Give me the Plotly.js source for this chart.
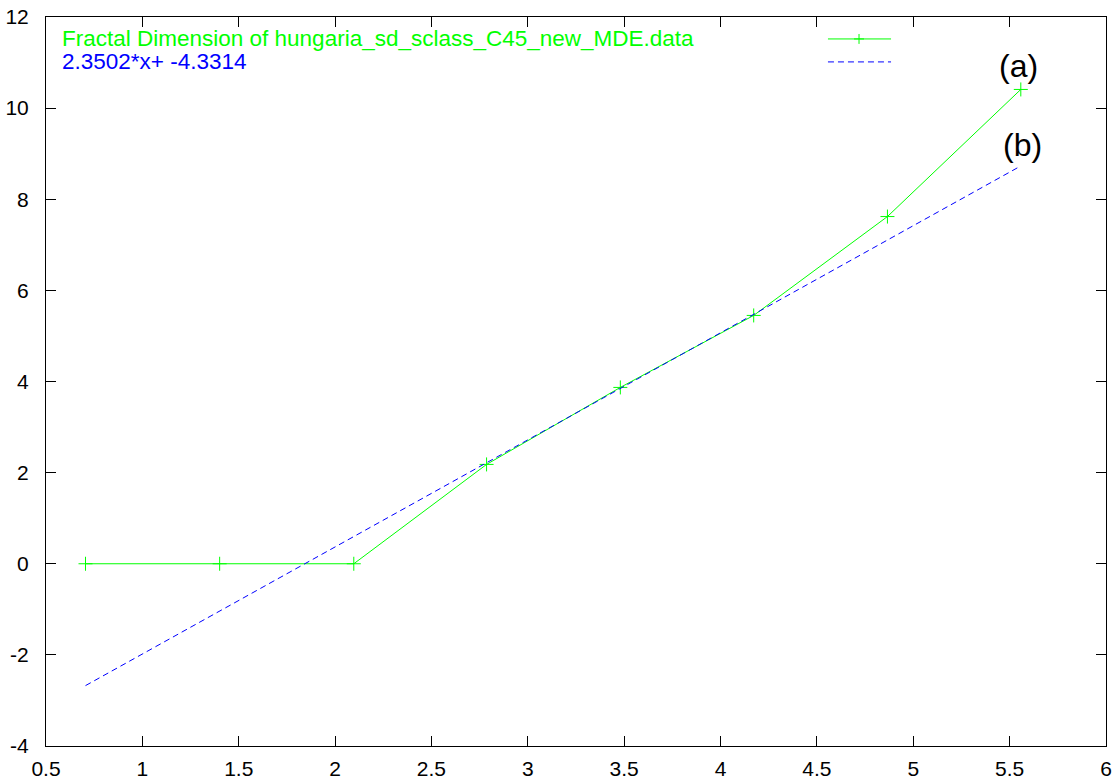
<!DOCTYPE html>
<html>
<head>
<meta charset="utf-8">
<script src="https://cdn.plot.ly/plotly-3.0.1.min.js"></script>
<style>
  html, body { margin: 0; padding: 0; background: #fff; }
  #plot { width: 1115px; height: 780px; }
</style>
</head>
<body>
<div id="plot"></div>
<script>
// Box-counting points: log of box count vs log of scale
const logScale = [0.705, 1.401, 2.097, 2.786, 3.480, 4.172, 4.866, 5.558];
const logCount = [0, 0, 0, 2.18, 3.87, 5.45, 7.62, 10.41];

// Least-squares fit reported in the key
const fitSlope = 2.3502;
const fitIntercept = -4.3314;
const fitX = [logScale[0], logScale[logScale.length - 1]];
const fitY = fitX.map(x => fitSlope * x + fitIntercept);

const dataLabel = "Fractal Dimension of hungaria_sd_sclass_C45_new_MDE.data";
const fitLabel = fitSlope + "*x+ " + fitIntercept;

const xTicks = [0.5, 1, 1.5, 2, 2.5, 3, 3.5, 4, 4.5, 5, 5.5, 6];
const yTicks = [-4, -2, 0, 2, 4, 6, 8, 10, 12];

const GREEN = "#00ff00";
const BLUE = "#0000ff";
const FONT = "Liberation Sans, Arial, Helvetica, sans-serif";

const traces = [
  {
    x: logScale, y: logCount, type: "scatter", mode: "lines+markers",
    line: { color: GREEN, width: 1 },
    marker: { symbol: "cross-thin-open", size: 10, line: { color: GREEN, width: 1 } },
    showlegend: false, hoverinfo: "x+y"
  },
  {
    x: fitX, y: fitY, type: "scatter", mode: "lines",
    line: { color: BLUE, width: 1, dash: "6px,4px" },
    showlegend: false, hoverinfo: "x+y"
  }
];

const axisCommon = {
  showgrid: false, zeroline: false, showline: true, linecolor: "#000", linewidth: 1,
  mirror: "ticks", ticks: "inside", ticklen: 10, tickwidth: 1, tickcolor: "#000",
  tickfont: { family: FONT, size: 21, color: "#000" }
};

// key: text on the left, line samples on the right (paper coordinates)
const keyY1 = 0.9699, keyY2 = 0.9384;
const sampleX0 = 0.7377, sampleX1 = 0.7972, sampleMid = 0.767;

const layout = {
  width: 1115, height: 780,
  margin: { l: 46, r: 9, t: 16.5, b: 33.5 },
  paper_bgcolor: "#fff", plot_bgcolor: "#fff",
  xaxis: Object.assign({}, axisCommon, {
    range: [0.5, 6], tickvals: xTicks, ticktext: xTicks.map(String), ticklabelstandoff: 4
  }),
  yaxis: Object.assign({}, axisCommon, {
    range: [-4, 12], tickvals: yTicks, ticktext: yTicks.map(String), ticklabelstandoff: 12
  }),
  annotations: [
    { xref: "paper", yref: "paper", x: 0.0132, y: keyY1, xanchor: "left", yanchor: "middle",
      text: dataLabel, showarrow: false, font: { family: FONT, size: 22.5, color: GREEN } },
    { xref: "paper", yref: "paper", x: 0.0132, y: keyY2, xanchor: "left", yanchor: "middle",
      text: fitLabel, showarrow: false, font: { family: FONT, size: 22.5, color: BLUE } },
    { xref: "x", yref: "y", x: 5.546, y: 10.92, xanchor: "center", yanchor: "middle",
      text: "(a)", showarrow: false, font: { family: FONT, size: 32, color: "#000" } },
    { xref: "x", yref: "y", x: 5.566, y: 9.2, xanchor: "center", yanchor: "middle",
      text: "(b)", showarrow: false, font: { family: FONT, size: 32, color: "#000" } }
  ],
  shapes: [
    { type: "line", xref: "paper", yref: "paper", x0: sampleX0, x1: sampleX1, y0: keyY1, y1: keyY1,
      line: { color: GREEN, width: 1 } },
    { type: "line", xref: "paper", yref: "paper", x0: sampleMid, x1: sampleMid, y0: keyY1 - 0.0068, y1: keyY1 + 0.0068,
      line: { color: GREEN, width: 1 } },
    { type: "line", xref: "paper", yref: "paper", x0: sampleMid - 0.0047, x1: sampleMid + 0.0047, y0: keyY1, y1: keyY1,
      line: { color: GREEN, width: 1 } },
    { type: "line", xref: "paper", yref: "paper", x0: sampleX0, x1: sampleX1, y0: keyY2, y1: keyY2,
      line: { color: BLUE, width: 1, dash: "6px,4px" } }
  ]
};

Plotly.newPlot("plot", traces, layout, { displayModeBar: false, staticPlot: true });
</script>
</body>
</html>
